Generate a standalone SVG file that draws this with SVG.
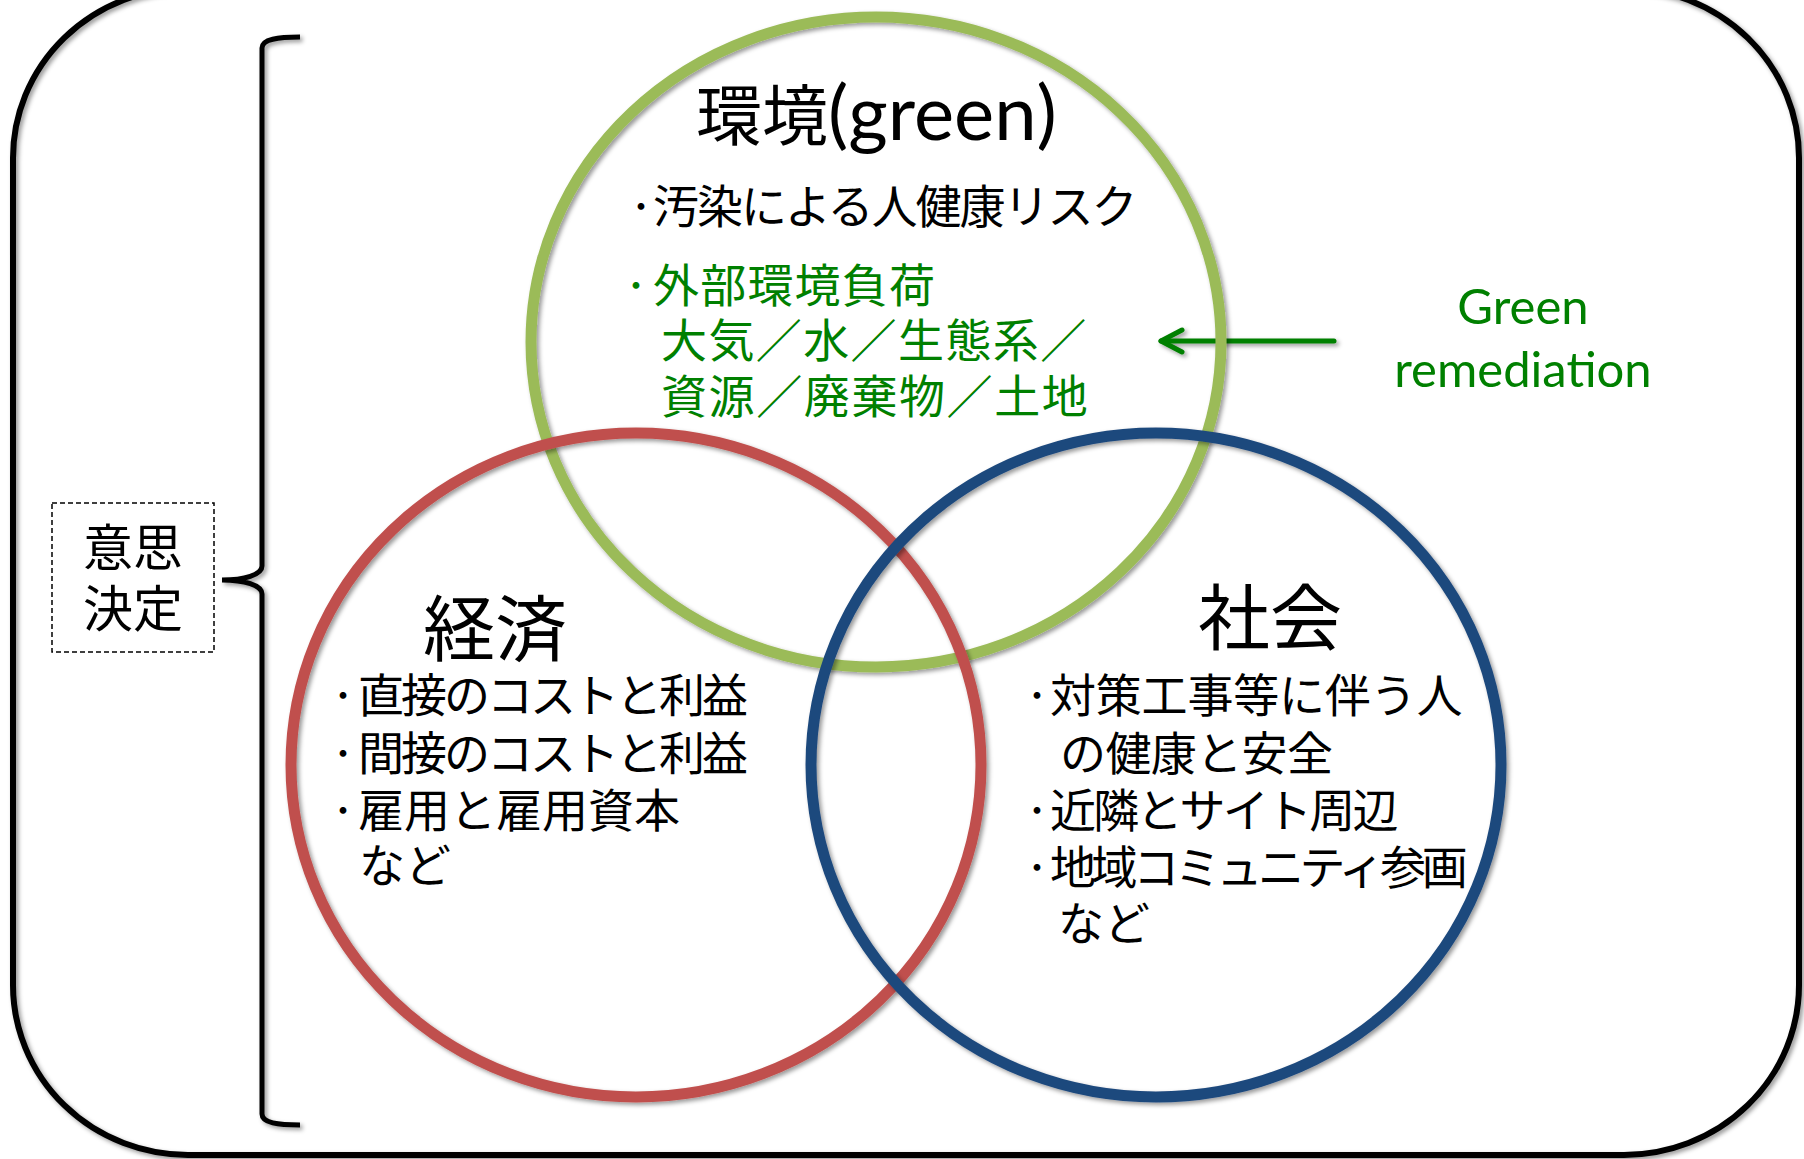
<svg xmlns="http://www.w3.org/2000/svg" width="1804" height="1159" viewBox="0 0 1804 1159">
<defs>
<filter id="sh" filterUnits="userSpaceOnUse" x="-20" y="-20" width="1850" height="1200">
<feDropShadow dx="2.5" dy="2.5" stdDeviation="2" flood-color="#000" flood-opacity="0.4"/>
</filter>
<marker id="chev" markerUnits="userSpaceOnUse" viewBox="-28 -16 32 32" markerWidth="32" markerHeight="32" refX="0" refY="0" orient="auto" overflow="visible">
<path d="M -21 -11 L 0 0 L -21 11" fill="none" stroke="#008000" stroke-width="5" stroke-linecap="round" stroke-linejoin="round"/>
</marker>
</defs>
<style>
.jp{font-family:"Noto Sans CJK JP","Noto Sans CJK SC",sans-serif;fill:#000}
.body{font-size:46px}
.head{font-size:72px}
.gr{fill:#008000}
.bu{font-size:24px;font-weight:900}
.ring{fill:none;stroke-width:11;filter:url(#sh)}
.lat{font-family:Lato,"Liberation Sans",sans-serif}
</style>
<rect width="1804" height="1159" fill="#fff"/>

<g id="frame">
<rect x="13" y="-12" width="1786" height="1167" rx="175" ry="170" fill="none" stroke="#000" stroke-width="6" filter="url(#sh)"/>
</g>

<g id="brace">
<path d="M 300 37 C 278 37 262 39 262 48 L 262 566 C 262 575 244 580 222 580 C 244 580 262 585 262 594 L 262 1114 C 262 1123 278 1125 300 1125" fill="none" stroke="#000" stroke-width="5" filter="url(#sh)"/>
</g>

<g id="decision">
<rect x="52" y="503" width="162" height="149" fill="none" stroke="#000" stroke-width="1.5" stroke-dasharray="5 3"/>
<text class="jp" x="133" y="566" font-size="50" text-anchor="middle">意思</text>
<text class="jp" x="133" y="627" font-size="50" text-anchor="middle">決定</text>
</g>

<g id="connectors">
<path d="M 1334 341 L 1161 341" fill="none" stroke="#008000" stroke-width="5" stroke-linecap="round" marker-end="url(#chev)" filter="url(#sh)"/>
</g>

<g id="green-remediation">
<text class="lat gr" x="1523" y="324" font-size="49" text-anchor="middle">Green</text>
<text class="lat gr" x="1523" y="387" font-size="49" text-anchor="middle">remediation</text>
</g>

<g id="environment">
<ellipse class="ring" cx="876" cy="342" rx="345" ry="325" stroke="#9BBB59"/>
<text class="jp" x="696" y="140" font-size="66">環境<tspan class="lat" font-size="76">(green)</tspan></text>
<text class="jp body"><tspan class="bu" x="629" y="215">・</tspan><tspan x="653" y="223" letter-spacing="-2">汚染による人健康リスク</tspan></text>
<text class="jp body gr"><tspan class="bu" x="624" y="294">・</tspan><tspan x="653" y="302" letter-spacing="1.2">外部環境負荷</tspan></text>
<text class="jp body gr" x="661" y="357" letter-spacing="1.4">大気／水／生態系／</text>
<text class="jp body gr" x="661" y="413" letter-spacing="1.6">資源／廃棄物／土地</text>
</g>

<g id="economy">
<ellipse class="ring" cx="636" cy="765" rx="345" ry="332" stroke="#C0504D"/>
<text class="jp head" x="423" y="655">経済</text>
<text class="jp body"><tspan class="bu" x="331" y="704">・</tspan><tspan x="358" y="712" letter-spacing="-3">直接のコストと利益</tspan></text>
<text class="jp body"><tspan class="bu" x="331" y="762">・</tspan><tspan x="358" y="770" letter-spacing="-3">間接のコストと利益</tspan></text>
<text class="jp body"><tspan class="bu" x="331" y="819">・</tspan><tspan x="358" y="827">雇用と雇用資本</tspan></text>
<text class="jp body" x="359" y="882">など</text>
</g>

<g id="society">
<ellipse class="ring" cx="1156" cy="765" rx="345" ry="332" stroke="#1F497D"/>
<text class="jp head" x="1198" y="644">社会</text>
<text class="jp body"><tspan class="bu" x="1025" y="704">・</tspan><tspan x="1050" y="712" letter-spacing="-0.2">対策工事等に伴う人</tspan></text>
<text class="jp body" x="1060" y="770" letter-spacing="-0.6">の健康と安全</text>
<text class="jp body"><tspan class="bu" x="1025" y="819">・</tspan><tspan x="1050" y="827" letter-spacing="-2.8">近隣とサイト周辺</tspan></text>
<text class="jp body"><tspan class="bu" x="1025" y="876">・</tspan><tspan x="1050" y="884" letter-spacing="-4.4">地域コミュニティ参画</tspan></text>
<text class="jp body" x="1058" y="940">など</text>
</g>
</svg>
